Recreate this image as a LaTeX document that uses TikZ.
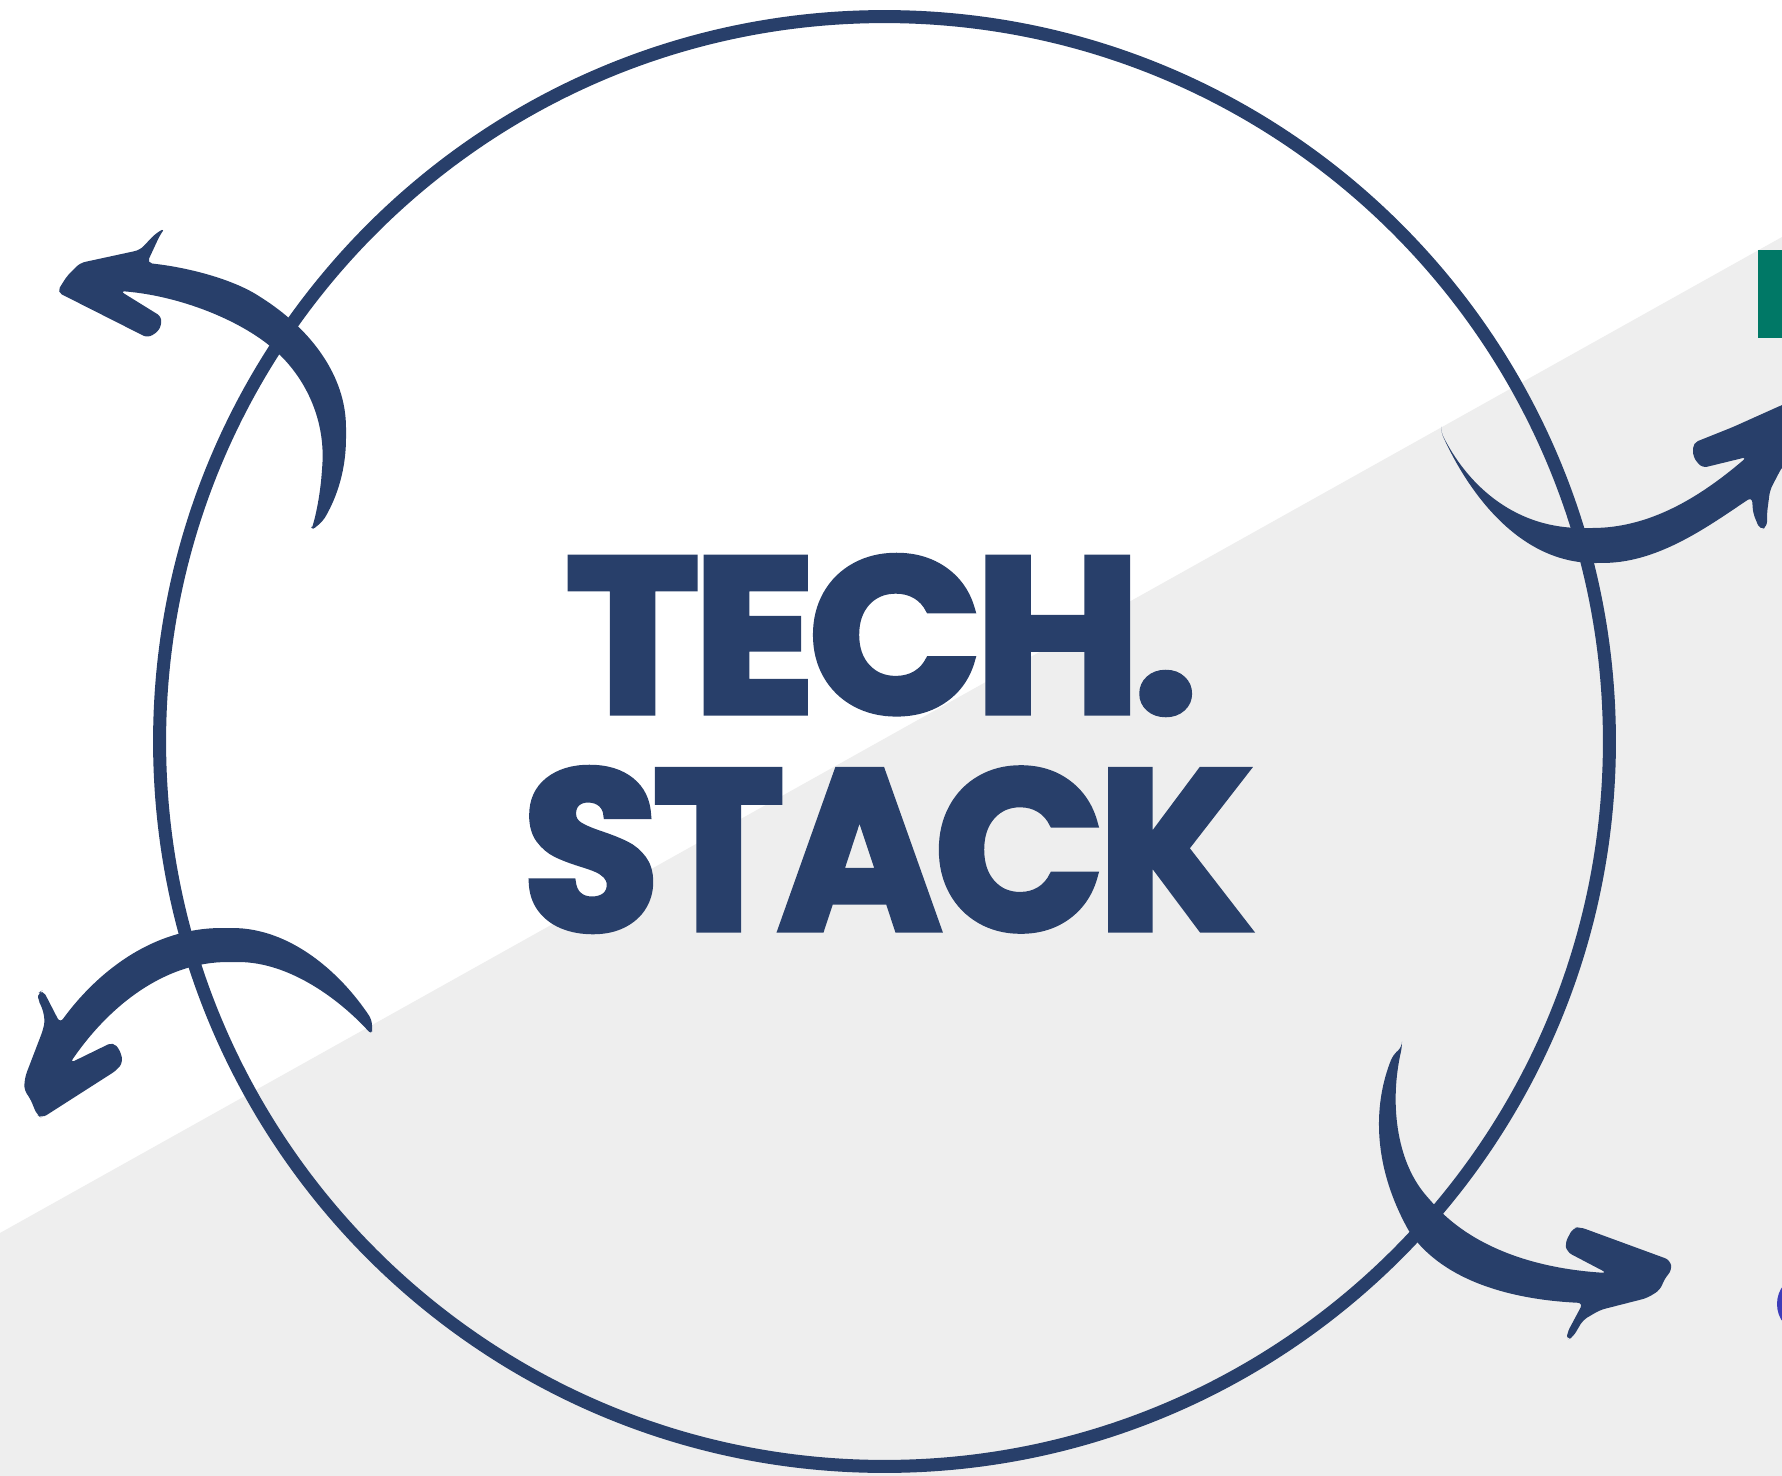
\documentclass[tikz,border=0pt]{standalone}
\usepackage{fontspec}
\usepackage{graphicx}
\newfontfamily\titlefont{Poppins}[LetterSpace=-3, BoldFeatures={FakeBold=3}]

\definecolor{navy}{RGB}{40,63,106}
\definecolor{paper}{RGB}{238,238,238}
\definecolor{logoteal}{RGB}{0,120,102}
\definecolor{logoblue}{RGB}{60,60,185}

\begin{document}
\begin{tikzpicture}[
  x=0.01cm, y=-0.01cm,
  ring/.style={draw=navy, line width=0.13cm},
  arw/.style={fill=navy, rounded corners=1.5pt},
  title/.style={inner sep=0pt, text=navy, font=\titlefont\bfseries},
]

\useasboundingbox (0,0) rectangle (1782,1476);
\clip (0,0) rectangle (1782,1476);

% background
\fill [white] (0,0) rectangle (1782,1476);
\fill [paper] (0,1233) -- (1782,237) -- (1782,1476) -- (0,1476) -- cycle;

% cut-off logos at the right edge
\fill [logoteal] (1758,250) rectangle (1782,338);
\fill [logoblue] (1800,1304) ellipse [x radius=23, y radius=27];

% the ring
\draw [ring] (884.5,741.5) circle [radius=7.245cm];

% top left arrow
\path [arw] (311,531) -- (323,521) .. controls (338,495) and (346,468) .. (346,433)
  .. controls (346,375) and (310,330) .. (262,298)
  .. controls (230,278) and (185,267) .. (147,263)
  -- (160,235) -- (165,228) -- (155,234) -- (140,250) -- (80,263) -- (67,276) -- (57,292)
  -- (148,338) -- (160,330) -- (162,317) -- (120,291)
  .. controls (180,296) and (240,320) .. (277,352)
  .. controls (310,385) and (325,425) .. (322,470)
  .. controls (320,495) and (316,515) .. (311,531) -- cycle;

% top right arrow
\path [arw] (1441,432) .. controls (1465,485) and (1515,563) .. (1600,563)
  .. controls (1660,562) and (1710,525) .. (1752,497)
  -- (1753,513) -- (1760,530) -- (1767,527) -- (1767,513) -- (1770,490) -- (1782,467) -- (1810,440)
  -- (1810,395) -- (1782,405) -- (1733,427) -- (1693,443) -- (1693,457) -- (1702,468) -- (1747,457)
  .. controls (1700,497) and (1650,528) .. (1587,528)
  .. controls (1510,528) and (1465,480) .. (1441,432) -- cycle;

% bottom left arrow
\path [arw] (372,1035) -- (372,1020) .. controls (340,972) and (290,928) .. (227,928)
  .. controls (150,928) and (95,975) .. (60,1023)
  -- (43,990) -- (38,993) -- (38,1000) -- (42,1007) -- (45,1020) -- (43,1030) -- (25,1077) -- (24,1090) -- (30,1098) -- (37,1115) -- (42,1118)
  -- (117,1070) -- (123,1062) -- (120,1050) -- (113,1042) -- (70,1063)
  .. controls (110,1005) and (165,962) .. (233,962)
  .. controls (290,962) and (340,1000) .. (372,1035) -- cycle;

% bottom right arrow
\path [arw] (1402,1047) -- (1393,1055) .. controls (1375,1100) and (1370,1160) .. (1410,1233)
  .. controls (1450,1285) and (1520,1300) .. (1583,1303)
  -- (1567,1333) -- (1567,1340) -- (1573,1337) -- (1583,1320) -- (1600,1310) -- (1647,1298) -- (1660,1290) -- (1665,1278) -- (1672,1270) -- (1670,1260)
  -- (1580,1227) -- (1573,1228) -- (1565,1243) -- (1567,1252) -- (1607,1273)
  .. controls (1530,1268) and (1470,1245) .. (1430,1200)
  .. controls (1395,1160) and (1390,1100) .. (1402,1047) -- cycle;

% title
\node [title] (tech) at (881.5,635) {\resizebox{6.31cm}{1.56cm}{TECH.}};
\node [title] (stack) at (887.5,849.5) {\resizebox{7.29cm}{1.61cm}{STACK}};

\end{tikzpicture}
\end{document}
